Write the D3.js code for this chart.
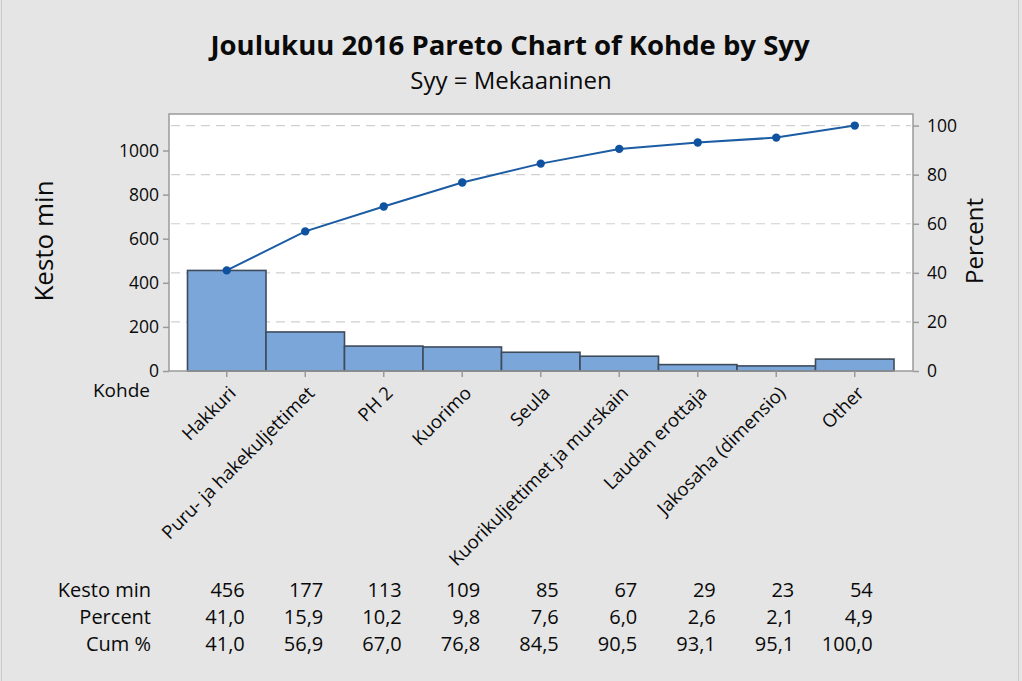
<!DOCTYPE html>
<html><head><meta charset="utf-8">
<script src="https://cdn.jsdelivr.net/npm/d3@7"></script>
<style>
html,body{margin:0;padding:0;background:#e5e5e5;}
svg{display:block;font-family:"Open Sans","Noto Sans",sans-serif;}
</style></head>
<body><svg id="c" width="1022" height="681"></svg>
<script>
const categories = ["Hakkuri","Puru- ja hakekuljettimet","PH 2","Kuorimo","Seula","Kuorikuljettimet ja murskain","Laudan erottaja","Jakosaha (dimensio)","Other"];
const kestoMin = [456,177,113,109,85,67,29,23,54];
const percentLabels = ["41,0","15,9","10,2","9,8","7,6","6,0","2,6","2,1","4,9"];
const cumLabels = ["41,0","56,9","67,0","76,8","84,5","90,5","93,1","95,1","100,0"];
const cumPercent = [41.0,56.9,67.0,76.8,84.5,90.5,93.1,95.1,100.0];
const leftTicks = [0,200,400,600,800,1000];
const rightTicks = [0,20,40,60,80,100];
const rowLabels = ["Kesto min","Percent","Cum %"];

const svg = d3.select("#c");
const W=1022,H=681;
const ink = "#0a0a0a";
svg.append("rect").attr("x",0).attr("y",0).attr("width",W).attr("height",H).attr("fill","#e5e5e5");
svg.append("rect").attr("x",1.5).attr("y",-2).attr("width",1017).attr("height",H+4).attr("fill","none").attr("stroke","#c9c9c9").attr("stroke-width",1);

const pl=169, pr=913, pt=114, pb=371;
const total = d3.sum(kestoMin);
const yMax = (pb-pt)/0.2205;
const y = d3.scaleLinear().domain([0,yMax]).range([pb,pt]);
const yR = d3.scaleLinear().domain([0,yMax/total*100]).range([pb,pt]);
const x = d3.scaleBand().domain(categories).range([187.5,894]).padding(0);

// plot area
svg.append("rect").attr("x",pl).attr("y",pt).attr("width",pr-pl).attr("height",pb-pt).attr("fill","#fff");

// gridlines
svg.append("g").selectAll("line").data(rightTicks.filter(d=>d>0)).join("line")
  .attr("x1",pl+2).attr("x2",pr-2).attr("y1",d=>yR(d)).attr("y2",d=>yR(d))
  .attr("stroke","#d0d0d0").attr("stroke-width",1.2).attr("stroke-dasharray","9,6");

// bars
svg.append("g").selectAll("rect").data(kestoMin).join("rect")
  .attr("x",(d,i)=>x(categories[i])).attr("width",x.bandwidth())
  .attr("y",d=>y(d)).attr("height",d=>pb-y(d))
  .attr("fill","#7ba6da").attr("stroke","#3e4b5b").attr("stroke-width",1.6);

// frame
svg.append("rect").attr("x",pl).attr("y",pt).attr("width",pr-pl).attr("height",pb-pt).attr("fill","none").attr("stroke","#9a9a9a").attr("stroke-width",1.5);

// left axis
const la = svg.append("g").attr("transform",`translate(${pl},0)`)
  .call(d3.axisLeft(y).tickValues(leftTicks).tickSize(6).tickPadding(4).tickFormat(d3.format("d")));
la.select(".domain").remove();
la.selectAll("line").attr("stroke","#9a9a9a").attr("stroke-width",1.5);
la.selectAll("text").attr("font-size",17.5).attr("fill",ink).attr("font-family","Open Sans");

// right axis
const ra = svg.append("g").attr("transform",`translate(${pr},0)`)
  .call(d3.axisRight(yR).tickValues(rightTicks).tickSize(6).tickPadding(8).tickFormat(d3.format("d")));
ra.select(".domain").remove();
ra.selectAll("line").attr("stroke","#9a9a9a").attr("stroke-width",1.5);
ra.selectAll("text").attr("font-size",17.5).attr("fill",ink).attr("font-family","Open Sans");

// bottom axis
const ba = svg.append("g").attr("transform",`translate(0,${pb})`)
  .call(d3.axisBottom(x).tickSize(6).tickFormat(""));
ba.select(".domain").remove();
ba.selectAll("line").attr("stroke","#9a9a9a").attr("stroke-width",1.5);

// category labels
svg.append("g").selectAll("text").data(categories).join("text")
  .attr("transform",d=>`translate(${x(d)+x.bandwidth()/2+1},${pb+14}) rotate(-45)`)
  .attr("text-anchor","end").attr("dy","0.71em").attr("font-size",18.5).attr("fill",ink)
  .text(d=>d);

svg.append("text").attr("x",150).attr("y",397).attr("text-anchor","end").attr("font-size",19).attr("fill",ink).text("Kohde");

// cumulative line
const line = d3.line().x((d,i)=>x(categories[i])+x.bandwidth()/2).y(d=>yR(d));
svg.append("path").datum(cumPercent).attr("d",line).attr("fill","none").attr("stroke","#1b5ca3").attr("stroke-width",2);
svg.append("g").selectAll("circle").data(cumPercent).join("circle")
  .attr("cx",(d,i)=>x(categories[i])+x.bandwidth()/2).attr("cy",d=>yR(d)).attr("r",4.2).attr("fill","#0f52a0");

// titles
svg.append("text").attr("x",510).attr("y",55).attr("text-anchor","middle").attr("font-size",27.5).attr("font-weight","bold").attr("fill",ink).text("Joulukuu 2016 Pareto Chart of Kohde by Syy");
svg.append("text").attr("x",511).attr("y",89).attr("text-anchor","middle").attr("font-size",24).attr("fill",ink).text("Syy = Mekaaninen");

// axis titles
svg.append("text").attr("transform","translate(53,241) rotate(-90)").attr("text-anchor","middle").attr("font-size",26).attr("fill",ink).text("Kesto min");
svg.append("text").attr("transform","translate(983,241) rotate(-90)").attr("text-anchor","middle").attr("font-size",24).attr("fill",ink).text("Percent");

// table
const rows = [kestoMin.map(String), percentLabels, cumLabels];
const rowY = [597,624,651];
rows.forEach((vals,r)=>{
  svg.append("text").attr("x",151).attr("y",rowY[r]).attr("text-anchor","end").attr("font-size",20).attr("fill",ink).text(rowLabels[r]);
  svg.append("g").selectAll("text").data(vals).join("text")
    .attr("x",(d,i)=>x(categories[i])+x.bandwidth()/2+18).attr("y",rowY[r])
    .attr("text-anchor","end").attr("font-size",20).attr("fill",ink).text(d=>d);
});
</script></body></html>
